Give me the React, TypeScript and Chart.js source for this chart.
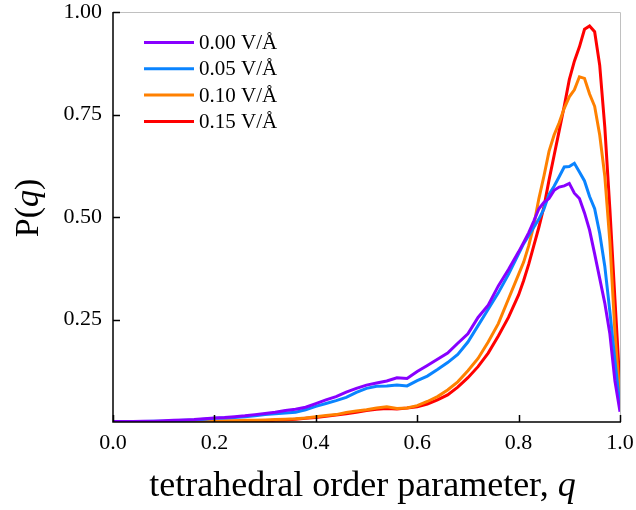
import React, { useEffect, useRef } from "react";
import { Chart, registerables } from "chart.js";

Chart.register(...registerables);

const qValues = [
  0.0, 0.02, 0.04, 0.06, 0.08, 0.1, 0.12, 0.14, 0.16, 0.18, 0.2, 0.22, 0.24, 0.26, 0.28, 0.3,
  0.32, 0.34, 0.36, 0.38, 0.4, 0.42, 0.44, 0.46, 0.48, 0.5, 0.52, 0.54, 0.56, 0.58, 0.6, 0.62,
  0.64, 0.66, 0.68, 0.7, 0.72, 0.74, 0.76, 0.78, 0.8, 0.81, 0.82, 0.83, 0.84, 0.85, 0.86, 0.87,
  0.88, 0.89, 0.9, 0.91, 0.92, 0.93, 0.94, 0.95, 0.96, 0.97, 0.98, 0.99, 1.0,
];

const field000 = [
  0.001, 0.001, 0.001, 0.002, 0.002, 0.003, 0.004, 0.005, 0.006, 0.008, 0.01, 0.011, 0.013, 0.015, 0.018, 0.021,
  0.024, 0.028, 0.031, 0.036, 0.045, 0.054, 0.062, 0.073, 0.082, 0.09, 0.095, 0.1, 0.108, 0.106, 0.123, 0.138,
  0.153, 0.168, 0.192, 0.215, 0.255, 0.285, 0.332, 0.372, 0.415, 0.438, 0.462, 0.49, 0.52, 0.536, 0.545, 0.565,
  0.573, 0.576, 0.582, 0.558, 0.545, 0.51, 0.468, 0.41, 0.35, 0.29, 0.215, 0.1, 0.025,
];

const field005 = [
  0.001, 0.001, 0.001, 0.001, 0.002, 0.002, 0.003, 0.004, 0.005, 0.007, 0.009, 0.01, 0.011, 0.013, 0.015, 0.018,
  0.02, 0.022, 0.024, 0.03, 0.038, 0.045, 0.052, 0.06, 0.072, 0.082, 0.087, 0.088, 0.09, 0.088, 0.101, 0.112,
  0.128, 0.145, 0.165, 0.195, 0.235, 0.275, 0.315, 0.36, 0.41, 0.435, 0.455, 0.475, 0.495, 0.52, 0.555, 0.575,
  0.598, 0.622, 0.623, 0.631, 0.61, 0.588, 0.55, 0.52, 0.46, 0.38, 0.27, 0.15, 0.037,
];

const field010 = [
  0.0, 0.0, 0.0, 0.001, 0.001, 0.001, 0.001, 0.001, 0.002, 0.002, 0.002, 0.003, 0.003, 0.004, 0.004, 0.005,
  0.006, 0.007, 0.008, 0.01, 0.013, 0.016, 0.018, 0.023, 0.027, 0.03, 0.034, 0.037, 0.033, 0.034, 0.04, 0.05,
  0.062, 0.078, 0.098, 0.125, 0.155, 0.195, 0.24, 0.3, 0.36, 0.39, 0.43, 0.48, 0.545, 0.6, 0.66, 0.7,
  0.73, 0.765, 0.793, 0.81, 0.842, 0.838, 0.8, 0.77, 0.7, 0.6, 0.44, 0.22, 0.054,
];

const field015 = [
  0.0, 0.0, 0.0, 0.0, 0.001, 0.001, 0.001, 0.001, 0.001, 0.001, 0.001, 0.002, 0.002, 0.002, 0.003, 0.003,
  0.004, 0.005, 0.007, 0.009, 0.011, 0.014, 0.017, 0.02, 0.024, 0.028, 0.031, 0.033, 0.032, 0.034, 0.037, 0.044,
  0.054, 0.066, 0.085, 0.108, 0.135, 0.168, 0.21, 0.255, 0.31, 0.345, 0.385, 0.43, 0.475, 0.525, 0.59, 0.65,
  0.71, 0.77, 0.835, 0.88, 0.915, 0.958, 0.966, 0.952, 0.87, 0.72, 0.52, 0.3, 0.083,
];

const seriesLabels = ["0.00 V/Å", "0.05 V/Å", "0.10 V/Å", "0.15 V/Å"];
const seriesColors = ["#8800ff", "#0a84ff", "#ff8000", "#ff0000"];

const xTickValues = [0, 0.2, 0.4, 0.6, 0.8, 1.0];
const xTickLabels = ["0.0", "0.2", "0.4", "0.6", "0.8", "1.0"];
const yTickValues = [0.25, 0.5, 0.75, 1.0];
const yTickLabels = ["0.25", "0.50", "0.75", "1.00"];

const FONT = "'Liberation Serif', 'Times New Roman', serif";

const decorPlugin = {
  id: "decor",
  afterDraw(chart: any) {
    const ctx = chart.ctx as CanvasRenderingContext2D;
    const { left, right, top, bottom } = chart.chartArea;
    const xs = chart.scales.x;
    const ys = chart.scales.y;
    ctx.save();
    // top and right frame (gray)
    ctx.strokeStyle = "#c0c0c0";
    ctx.lineWidth = 1;
    ctx.beginPath();
    ctx.moveTo(left, top + 0.5);
    ctx.lineTo(right + 0.5, top + 0.5);
    ctx.lineTo(right + 0.5, bottom);
    ctx.stroke();
    // left & bottom axes (black)
    ctx.strokeStyle = "#000";
    ctx.lineWidth = 1.5;
    ctx.beginPath();
    ctx.moveTo(left, top);
    ctx.lineTo(left, bottom);
    ctx.lineTo(right + 1, bottom);
    ctx.stroke();
    // inward ticks
    ctx.lineWidth = 1.5;
    ctx.beginPath();
    xTickValues.forEach((v) => {
      const px = Math.round(xs.getPixelForValue(v)) + 0.5;
      ctx.moveTo(px, bottom);
      ctx.lineTo(px, bottom - 7);
    });
    yTickValues.forEach((v) => {
      const py = Math.round(ys.getPixelForValue(v)) + 0.5;
      ctx.moveTo(left, py);
      ctx.lineTo(left + 7, py);
    });
    ctx.stroke();

    // x title
    ctx.fillStyle = "#000";
    ctx.textBaseline = "alphabetic";
    const xt1 = "tetrahedral order parameter, ";
    const xt2 = "q";
    ctx.font = `36px ${FONT}`;
    const w1 = ctx.measureText(xt1).width;
    ctx.font = `italic 36px ${FONT}`;
    const w2 = ctx.measureText(xt2).width;
    const cx = (left + right) / 2 - 4;
    const sx = cx - (w1 + w2) / 2;
    ctx.font = `36px ${FONT}`;
    ctx.textAlign = "left";
    ctx.fillText(xt1, sx, 496);
    ctx.font = `italic 36px ${FONT}`;
    ctx.fillText(xt2, sx + w1, 496);

    // y title (rotated)
    ctx.save();
    ctx.translate(38, 208);
    ctx.rotate(-Math.PI / 2);
    const parts = [
      { t: "P(", f: `34px ${FONT}` },
      { t: "q", f: `italic 34px ${FONT}` },
      { t: ")", f: `34px ${FONT}` },
    ];
    let total = 0;
    parts.forEach((p) => {
      ctx.font = p.f;
      total += ctx.measureText(p.t).width;
    });
    let px = -total / 2;
    parts.forEach((p) => {
      ctx.font = p.f;
      ctx.fillText(p.t, px, 0);
      px += ctx.measureText(p.t).width;
    });
    ctx.restore();

    // legend
    chart.data.datasets.forEach((ds: any, i: number) => {
      const y = 42.5 + i * 26.3;
      ctx.strokeStyle = ds.borderColor;
      ctx.lineWidth = 3;
      ctx.beginPath();
      ctx.moveTo(144, y);
      ctx.lineTo(194, y);
      ctx.stroke();
      ctx.fillStyle = "#000";
      ctx.font = `21px ${FONT}`;
      ctx.textAlign = "left";
      ctx.textBaseline = "middle";
      ctx.fillText(ds.label, 199, y + 1);
    });
    ctx.restore();
  },
};

export default function App() {
  const ref = useRef<HTMLCanvasElement | null>(null);
  useEffect(() => {
    if (!ref.current) return;
    const allSeries = [field000, field005, field010, field015];
    const chart = new Chart(ref.current, {
      type: "line",
      data: {
        datasets: allSeries.map((vals, i) => ({
          label: seriesLabels[i],
          data: qValues.map((q, j) => ({ x: q, y: vals[j] })),
          borderColor: seriesColors[i],
          backgroundColor: seriesColors[i],
          borderWidth: 3,
          pointRadius: 0,
          tension: 0,
          fill: false,
        })),
      },
      options: {
        animation: false,
        responsive: false,
        maintainAspectRatio: false,
        layout: { padding: { top: 12, right: 16, left: 0, bottom: 0 } },
        plugins: { legend: { display: false }, tooltip: { enabled: false } },
        scales: {
          x: {
            type: "linear",
            min: 0,
            max: 1,
            grid: { display: false, drawTicks: false },
            border: { display: false },
            afterBuildTicks: (scale: any) => {
              scale.ticks = xTickValues.map((v) => ({ value: v }));
            },
            afterFit: (scale: any) => {
              scale.height = 88;
              scale.paddingLeft = 0;
              scale.paddingRight = 0;
              scale.paddingTop = 0;
              scale.paddingBottom = 0;
            },
            ticks: {
              autoSkip: false,
              maxRotation: 0,
              padding: 8,
              color: "#000",
              font: { family: FONT, size: 22 },
              callback: (v: any) => {
                const idx = xTickValues.findIndex((t) => Math.abs(t - Number(v)) < 1e-9);
                return idx >= 0 ? xTickLabels[idx] : "";
              },
            },
          },
          y: {
            type: "linear",
            min: 0,
            max: 1,
            grid: { display: false, drawTicks: false },
            border: { display: false },
            afterBuildTicks: (scale: any) => {
              scale.ticks = yTickValues.map((v) => ({ value: v }));
            },
            afterFit: (scale: any) => {
              scale.width = 113;
              scale.paddingLeft = 0;
              scale.paddingRight = 0;
              scale.paddingTop = 0;
              scale.paddingBottom = 0;
            },
            ticks: {
              autoSkip: false,
              padding: 11,
              color: "#000",
              font: { family: FONT, size: 22 },
              callback: (v: any) => {
                const idx = yTickValues.findIndex((t) => Math.abs(t - Number(v)) < 1e-9);
                return idx >= 0 ? yTickLabels[idx] : "";
              },
            },
          },
        },
      },
      plugins: [decorPlugin],
    });
    return () => chart.destroy();
  }, []);
  return (
    <div style={{ position: "absolute", left: 0, top: 0, width: 636, height: 510, background: "#fff" }}>
      <canvas ref={ref} width={636} height={510} style={{ display: "block" }} />
    </div>
  );
}
